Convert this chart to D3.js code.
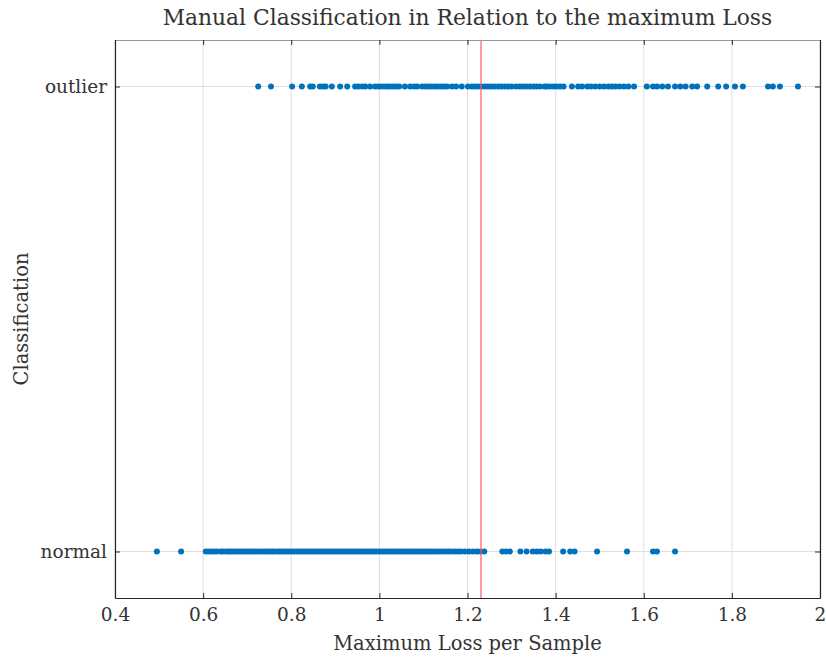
<!DOCTYPE html>
<html>
<head>
<meta charset="utf-8">
<script src="https://cdn.jsdelivr.net/npm/d3@7"></script>
<style>
  body { margin: 0; background: #fff; }
  svg text { font-family: "DejaVu Serif", serif; fill: #333; }
</style>
</head>
<body>
<div id="chart"></div>
<script>
// values
var categories = ["normal", "outlier"];
var xTicks = [0.4, 0.6, 0.8, 1, 1.2, 1.4, 1.6, 1.8, 2];
var threshold = 1.2307;

var outlierLoss = [0.725, 0.754, 0.802, 0.824, 0.843, 0.849, 0.865, 0.872, 0.878, 0.892,
    0.911, 0.927, 0.945, 0.952, 0.961, 0.968, 0.979, 0.990, 0.997, 1.004, 1.011, 1.018,
    1.024, 1.031, 1.038, 1.045, 1.058, 1.070, 1.079, 1.086, 1.097, 1.104, 1.111, 1.118,
    1.126, 1.133, 1.140, 1.147, 1.154, 1.165, 1.174, 1.187, 1.201, 1.210, 1.218, 1.225,
    1.232, 1.240, 1.247, 1.254, 1.262, 1.270, 1.277, 1.285, 1.292, 1.300, 1.310, 1.318,
    1.326, 1.334, 1.342, 1.350, 1.357, 1.365, 1.375, 1.380, 1.387, 1.395, 1.402, 1.410,
    1.418, 1.437, 1.451, 1.460, 1.472, 1.480, 1.490, 1.500, 1.510, 1.520, 1.528, 1.536,
    1.545, 1.555, 1.565, 1.578, 1.607, 1.621, 1.630, 1.642, 1.655, 1.671, 1.683, 1.695,
    1.710, 1.721, 1.744, 1.769, 1.787, 1.807, 1.825, 1.882, 1.893, 1.909, 1.950];

var normalLoss = [0.495, 0.550, 0.606, 0.612, 0.618, 0.625, 0.631, 0.640, 0.645, 0.652,
    0.658, 0.663, 0.669, 0.674, 0.681, 0.687, 0.692, 0.699, 0.705, 0.711, 0.716, 0.722,
    0.729, 0.735, 0.741, 0.746, 0.752, 0.758, 0.764, 0.771, 0.776, 0.782, 0.788, 0.793,
    0.799, 0.805, 0.811, 0.817, 0.822, 0.828, 0.834, 0.839, 0.845, 0.851, 0.857, 0.862,
    0.868, 0.874, 0.880, 0.885, 0.891, 0.897, 0.903, 0.909, 0.914, 0.920, 0.926, 0.931,
    0.937, 0.943, 0.949, 0.954, 0.960, 0.966, 0.972, 0.978, 0.983, 0.989, 0.995, 1.001,
    1.007, 1.012, 1.018, 1.024, 1.030, 1.036, 1.041, 1.047, 1.053, 1.059, 1.065, 1.071,
    1.076, 1.082, 1.088, 1.094, 1.100, 1.106, 1.112, 1.118, 1.124, 1.131, 1.137, 1.143,
    1.150, 1.157, 1.163, 1.171, 1.178, 1.185, 1.194, 1.203, 1.212, 1.221, 1.229, 1.238,
    1.279, 1.287, 1.296, 1.320, 1.334, 1.348, 1.357, 1.366, 1.377, 1.385, 1.417, 1.433,
    1.443, 1.494, 1.562, 1.621, 1.630, 1.671];

var W = 826, H = 657;
var margin = { top: 40, right: 6, bottom: 59, left: 115 };
var width = W - margin.left - margin.right,
    height = H - margin.top - margin.bottom;

var serif = "'DejaVu Serif', serif";

var svg = d3.select("#chart").append("svg")
    .attr("width", W)
    .attr("height", H);

var g = svg.append("g")
    .attr("transform", "translate(" + margin.left + "," + margin.top + ")");

var x = d3.scaleLinear().domain([0.4, 2]).range([0, width]);
var y = d3.scalePoint().domain(categories).range([height, 0]).padding(0.1);

var points = normalLoss.map(function (v) { return { v: v, c: "normal" }; })
    .concat(outlierLoss.map(function (v) { return { v: v, c: "outlier" }; }));

// grid
g.selectAll(".vgrid").data(xTicks).enter().append("line")
    .attr("x1", function (d) { return x(d); }).attr("x2", function (d) { return x(d); })
    .attr("y1", 0).attr("y2", height)
    .attr("stroke", "#dfdfdf").attr("stroke-width", 1);
g.selectAll(".hgrid").data(categories).enter().append("line")
    .attr("x1", 0).attr("x2", width)
    .attr("y1", function (d) { return y(d); }).attr("y2", function (d) { return y(d); })
    .attr("stroke", "#dfdfdf").attr("stroke-width", 1);

// points
g.selectAll(".dot").data(points).enter().append("circle")
    .attr("cx", function (d) { return x(d.v); })
    .attr("cy", function (d) { return y(d.c); })
    .attr("r", 3)
    .attr("fill", "#0072BD");

// threshold
g.append("line")
    .attr("x1", x(threshold)).attr("x2", x(threshold))
    .attr("y1", 0).attr("y2", height)
    .attr("stroke", "#ff5a5a").attr("stroke-width", 1.2);

// axes
var xAxis = g.append("g")
    .attr("transform", "translate(0," + height + ")")
    .call(d3.axisBottom(x).tickValues(xTicks).tickFormat(d3.format("")).tickSizeInner(-5).tickSizeOuter(0).tickPadding(10));
var xAxisTop = g.append("g")
    .call(d3.axisTop(x).tickValues(xTicks).tickFormat("").tickSizeInner(-5).tickSizeOuter(0));
var yAxis = g.append("g")
    .call(d3.axisLeft(y).tickSizeInner(-5).tickSizeOuter(0).tickPadding(8));
var yAxisRight = g.append("g")
    .attr("transform", "translate(" + width + ",0)")
    .call(d3.axisRight(y).tickFormat("").tickSizeInner(-5).tickSizeOuter(0));

[xAxis, xAxisTop, yAxis, yAxisRight].forEach(function (a) {
    a.attr("font-family", serif);
    a.selectAll("path").attr("stroke", "#262626").attr("stroke-width", 1.2);
    a.selectAll("line").attr("stroke", "#262626");
    a.selectAll("text").style("font-family", serif).style("font-size", "18.5px").attr("fill", "#333");
});
xAxisTop.select("path").attr("stroke", "#999");

// labels
svg.append("text")
    .attr("x", margin.left + width / 2).attr("y", 25)
    .attr("text-anchor", "middle")
    .style("font-family", serif)
    .style("font-size", "21.8px")
    .text("Manual Classification in Relation to the maximum Loss");

svg.append("text")
    .attr("x", margin.left + width / 2).attr("y", 650)
    .attr("text-anchor", "middle")
    .style("font-family", serif)
    .style("font-size", "19.5px")
    .text("Maximum Loss per Sample");

svg.append("text")
    .attr("transform", "translate(28," + (margin.top + height / 2) + ") rotate(-90)")
    .attr("text-anchor", "middle")
    .style("font-family", serif)
    .style("font-size", "19.5px")
    .text("Classification");
</script>
</body>
</html>
